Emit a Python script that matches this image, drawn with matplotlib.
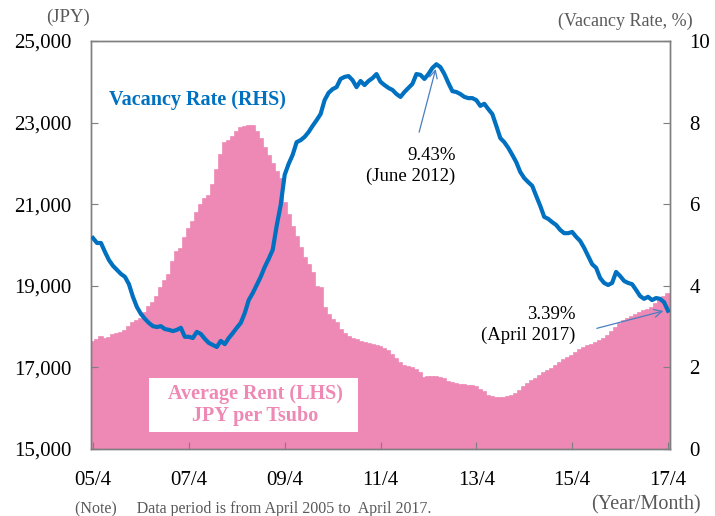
import matplotlib
matplotlib.use("Agg")
import matplotlib.pyplot as plt
from matplotlib.patches import Rectangle
import numpy as np

plt.rcParams['font.family'] = ['Liberation Serif', 'DejaVu Serif']

# Monthly data April 2005 .. April 2017 (145 months)
rent = [17620, 17670, 17750, 17700, 17720, 17790, 17820, 17840, 17890, 17990,
        18090, 18140, 18190, 18330, 18480, 18580, 18730, 18950, 19120, 19270,
        19580, 19830, 19900, 20170, 20390, 20560, 20780, 20980, 21130, 21200,
        21470, 21840, 22210, 22500, 22550, 22650, 22770, 22870, 22890, 22920,
        22920, 22770, 22600, 22380, 22180, 21990, 21790, 21620, 21030, 20740,
        20440, 20200, 19930, 19680, 19510, 19310, 18970, 18950, 18460, 18280,
        18160, 18090, 17920, 17820, 17750, 17700, 17670, 17620, 17600, 17570,
        17550, 17520, 17500, 17450, 17400, 17300, 17210, 17110, 17030, 17010,
        16990, 16940, 16860, 16740, 16760, 16760, 16760, 16740, 16720, 16640,
        16620, 16590, 16570, 16570, 16540, 16540, 16520, 16450, 16400, 16300,
        16270, 16250, 16250, 16250, 16270, 16300, 16350, 16420, 16520, 16590,
        16670, 16720, 16790, 16860, 16910, 16960, 17030, 17110, 17180, 17230,
        17280, 17350, 17430, 17480, 17520, 17550, 17600, 17650, 17700, 17770,
        17870, 17970, 18060, 18140, 18190, 18240, 18280, 18330, 18380, 18410,
        18460, 18550, 18650, 18730, 18800]

vacancy = [5.17, 5.05, 5.05, 4.83, 4.63, 4.49, 4.39, 4.29, 4.22, 4.04,
           3.73, 3.48, 3.31, 3.19, 3.09, 3.01, 2.99, 3.01, 2.94, 2.92,
           2.89, 2.92, 2.97, 2.75, 2.75, 2.72, 2.87, 2.82, 2.70, 2.60,
           2.55, 2.50, 2.65, 2.57, 2.72, 2.84, 2.97, 3.09, 3.33, 3.65,
           3.82, 4.02, 4.22, 4.46, 4.66, 4.88, 5.47, 5.98, 6.72, 6.99,
           7.21, 7.52, 7.57, 7.65, 7.77, 7.92, 8.06, 8.21, 8.55, 8.73,
           8.82, 8.87, 9.07, 9.12, 9.14, 9.04, 8.87, 9.02, 8.92, 9.02,
           9.09, 9.19, 9.00, 8.92, 8.85, 8.80, 8.70, 8.63, 8.75, 8.85,
           8.95, 9.19, 9.17, 9.07, 9.19, 9.34, 9.43, 9.36, 9.19, 8.97,
           8.77, 8.75, 8.70, 8.63, 8.60, 8.60, 8.55, 8.41, 8.46, 8.33,
           8.21, 7.92, 7.62, 7.52, 7.38, 7.21, 7.03, 6.79, 6.64, 6.54,
           6.45, 6.20, 5.96, 5.69, 5.64, 5.56, 5.49, 5.37, 5.29, 5.29,
           5.32, 5.20, 5.10, 4.93, 4.73, 4.53, 4.44, 4.19, 4.07, 4.02,
           4.07, 4.34, 4.24, 4.12, 4.07, 4.04, 3.90, 3.75, 3.68, 3.73,
           3.65, 3.70, 3.68, 3.60, 3.39]

tick_labels = ['05/4', '07/4', '09/4', '11/4', '13/4', '15/4', '17/4']
left_ticks = [15000, 17000, 19000, 21000, 23000, 25000]
right_ticks = [0, 2, 4, 6, 8, 10]

PINK = '#EE88B4'
BLUE = '#0070C0'
GRAY = '#7F7F7F'

fig = plt.figure(figsize=(7.15, 5.16), dpi=100)
ax = fig.add_axes([91/715, 1-449/516, 579/715, 408/516])
x = np.arange(len(rent))
ax.bar(x, rent, width=1.0, color=PINK, edgecolor=PINK, linewidth=1.2, zorder=1)
ax.set_xlim(-0.5, len(rent)-0.5)
ax.set_ylim(15000, 25000)
ax.set_yticks(left_ticks)
ax.set_yticklabels([f'{v:,}' for v in left_ticks])
ax.set_xticks(np.arange(0, len(rent), 24))
ax.set_xticklabels(tick_labels)
ax.tick_params(axis='both', direction='in', length=5, color=GRAY, labelsize=15)
ax.tick_params(axis='x', pad=15.5)
ax.tick_params(axis='y', pad=14)
for s in ax.spines.values():
    s.set_color(GRAY)
    s.set_linewidth(1.0)
    s.set_zorder(6)

# white legend box for rent
ax.add_patch(Rectangle((58/579, 17/408), 209/579, 54/408, transform=ax.transAxes,
                       facecolor='white', edgecolor='none', zorder=3))
ax.text(164/579, 44/408, 'Average Rent (LHS)\nJPY per Tsubo', transform=ax.transAxes,
        ha='center', va='center', fontsize=14.5, fontweight='bold', color=PINK,
        linespacing=1.15, zorder=4)

ax2 = ax.twinx()
ax2.plot(x, vacancy, color=BLUE, linewidth=3.0, solid_joinstyle='round', zorder=5)
ax2.set_ylim(0, 10)
ax2.set_yticks(right_ticks)
ax2.tick_params(axis='y', direction='in', length=5, color=GRAY, labelsize=15, pad=14)
for s in ax2.spines.values():
    s.set_color(GRAY)
    s.set_linewidth(1.0)

ax2.text(18/579, 1-59/408, 'Vacancy Rate (RHS)', transform=ax2.transAxes,
         ha='left', va='center', fontsize=14.5, fontweight='bold', color=BLUE)

# annotations
ax2.annotate('', xy=(86, vacancy[86]-0.05), xytext=(81.5, 7.7),
             arrowprops=dict(arrowstyle='->', color='#4A7EC0', lw=0.9, mutation_scale=14))
ax2.text(90.8, 6.94, '9.43%\n(June 2012)', ha='right', va='center', fontsize=13.5,
         color='black', linespacing=1.3, multialignment='right')
ax2.annotate('', xy=(143.5, 3.4), xytext=(125.5, 2.94),
             arrowprops=dict(arrowstyle='->', color='#4A7EC0', lw=0.9, mutation_scale=14))
ax2.text(120.8, 3.04, '3.39%\n(April 2017)', ha='right', va='center', fontsize=13.5,
         color='black', linespacing=1.3, multialignment='right')

fig.text(90/715, 1-17/516, '(JPY)', ha='right', va='center', fontsize=13.5, color='#595959')
fig.text(693/715, 1-21/516, '(Vacancy Rate, %)', ha='right', va='center', fontsize=13, color='#595959')
fig.text(701/715, 1-505/516, '(Year/Month)', ha='right', va='center', fontsize=14.5, color='#595959')
fig.text(75/715, 1-509/516, '(Note)     Data period is from April 2005 to  April 2017.', ha='left',
         va='center', fontsize=11.5, color='#595959')

fig.savefig('out.png', dpi=100)
